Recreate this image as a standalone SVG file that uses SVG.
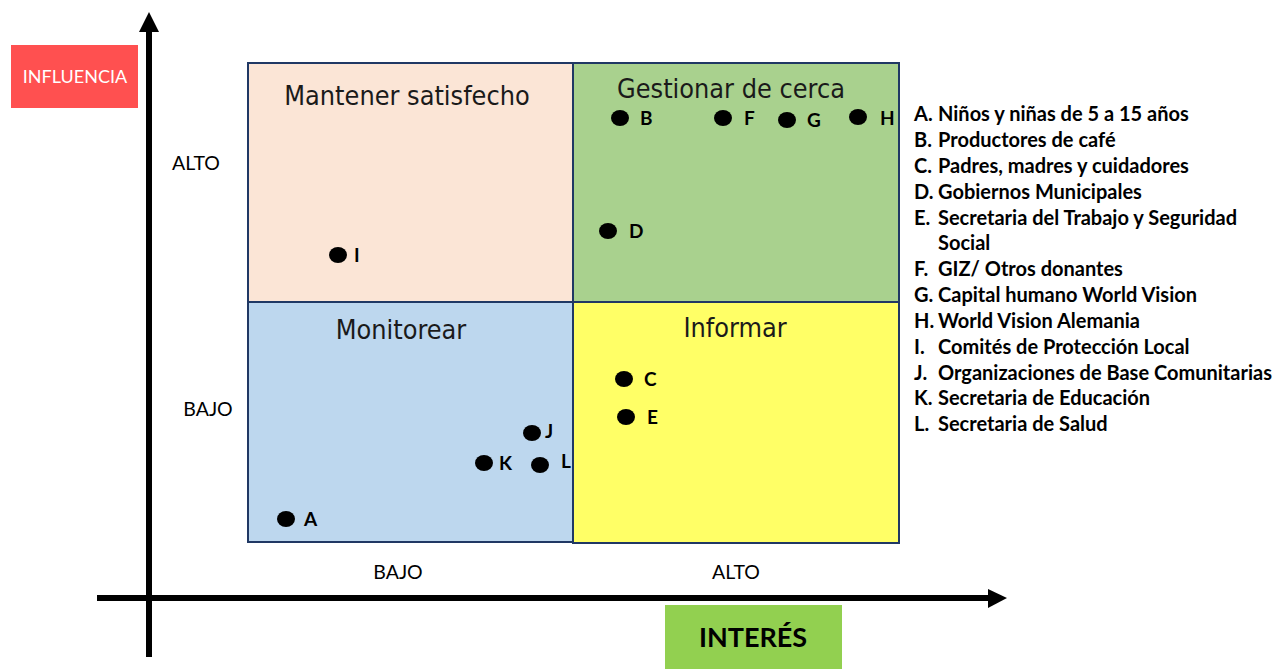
<svg xmlns="http://www.w3.org/2000/svg" width="1275" height="669" viewBox="0 0 1275 669">
<style>
.q{stroke:#203864;stroke-width:2}
.title{font-family:"DejaVu Sans Condensed","DejaVu Sans",sans-serif;font-size:26.8px;fill:#1a1a1a;text-anchor:middle}
.lbl{font-family:Lato,"Open Sans",sans-serif;font-weight:bold;font-size:19px;fill:#000}
.leg{font-family:Lato,"Open Sans",sans-serif;font-weight:bold;font-size:20px;fill:#000}
.ax{font-family:Lato,"Open Sans",sans-serif;font-size:19.5px;fill:#000;text-anchor:middle}
.dot{fill:#000}
</style>
<rect width="1275" height="669" fill="#fff"/>
<g id="quadrants">
<rect id="q-satisfecho" class="q" x="248" y="63" width="325" height="239" fill="#FBE5D6"/>
<rect id="q-cerca" class="q" x="573" y="63" width="326" height="239" fill="#A9D18E"/>
<rect id="q-monitorear" class="q" x="248" y="302" width="325" height="240" fill="#BDD7EE"/>
<rect id="q-informar" class="q" x="573" y="302" width="326" height="241" fill="#FFFF66"/>
<text class="title" x="407" y="105">Mantener satisfecho</text>
<text class="title" x="731" y="98">Gestionar de cerca</text>
<text class="title" x="401" y="339">Monitorear</text>
<text class="title" x="735" y="337">Informar</text>
</g>
<g id="connectors">
<line x1="149" y1="657" x2="149" y2="30" stroke="#000" stroke-width="6"/>
<polygon points="149,12 139,32 159,32" fill="#000"/>
<line x1="97" y1="598" x2="990" y2="598" stroke="#000" stroke-width="6"/>
<polygon points="1007,598 988,589 988,608" fill="#000"/>
</g>
<g id="influencia">
<rect x="11" y="45" width="127" height="63" fill="#FF5050"/>
<text x="75" y="83" font-family="Lato,'Open Sans',sans-serif" font-size="18" fill="#fff" text-anchor="middle">INFLUENCIA</text>
</g>
<g id="interes">
<rect x="665" y="605" width="177" height="64" fill="#92D050"/>
<text x="753" y="647" font-family="Lato,'Open Sans',sans-serif" font-weight="bold" font-size="27" fill="#000" text-anchor="middle">INTERÉS</text>
</g>
<g id="axis-labels">
<text class="ax" x="196" y="170">ALTO</text>
<text class="ax" x="208" y="416">BAJO</text>
<text class="ax" x="398" y="579">BAJO</text>
<text class="ax" x="736" y="579">ALTO</text>
</g>
<g id="points">
<g id="p-B"><ellipse class="dot" cx="620" cy="118" rx="9" ry="8"/><text class="lbl" x="640" y="125">B</text></g>
<g id="p-F"><ellipse class="dot" cx="723" cy="118" rx="9" ry="8"/><text class="lbl" x="744" y="125">F</text></g>
<g id="p-G"><ellipse class="dot" cx="787" cy="120" rx="9" ry="8"/><text class="lbl" x="807" y="127">G</text></g>
<g id="p-H"><ellipse class="dot" cx="858" cy="117" rx="9" ry="8"/><text class="lbl" x="880" y="125">H</text></g>
<g id="p-D"><ellipse class="dot" cx="608" cy="231" rx="9" ry="8"/><text class="lbl" x="629" y="238">D</text></g>
<g id="p-I"><ellipse class="dot" cx="338" cy="255" rx="9" ry="8"/><text class="lbl" x="354" y="262">I</text></g>
<g id="p-C"><ellipse class="dot" cx="624" cy="379" rx="9" ry="8"/><text class="lbl" x="644" y="386">C</text></g>
<g id="p-E"><ellipse class="dot" cx="626" cy="417" rx="9" ry="8"/><text class="lbl" x="647" y="424">E</text></g>
<g id="p-J"><ellipse class="dot" cx="532" cy="433" rx="9" ry="8"/><text class="lbl" x="545" y="438">J</text></g>
<g id="p-K"><ellipse class="dot" cx="484" cy="463" rx="9" ry="8"/><text class="lbl" x="499" y="470">K</text></g>
<g id="p-L"><ellipse class="dot" cx="540" cy="465" rx="9" ry="8"/><text class="lbl" x="561" y="468">L</text></g>
<g id="p-A"><ellipse class="dot" cx="286" cy="519" rx="9" ry="8"/><text class="lbl" x="304" y="526">A</text></g>
</g>
<g id="legend">
<text class="leg" x="914" y="121">A.</text><text class="leg" x="938" y="121">Niños y niñas de 5 a 15 años</text>
<text class="leg" x="914" y="147">B.</text><text class="leg" x="938" y="147">Productores de café</text>
<text class="leg" x="914" y="173">C.</text><text class="leg" x="938" y="173">Padres, madres y cuidadores</text>
<text class="leg" x="914" y="199">D.</text><text class="leg" x="938" y="199">Gobiernos Municipales</text>
<text class="leg" x="914" y="225">E.</text><text class="leg" x="938" y="225">Secretaria del Trabajo y Seguridad</text>
<text class="leg" x="938" y="250">Social</text>
<text class="leg" x="914" y="276">F.</text><text class="leg" x="938" y="276">GIZ/ Otros donantes</text>
<text class="leg" x="914" y="302">G.</text><text class="leg" x="938" y="302">Capital humano World Vision</text>
<text class="leg" x="914" y="328">H.</text><text class="leg" x="938" y="328">World Vision Alemania</text>
<text class="leg" x="914" y="354">I.</text><text class="leg" x="938" y="354">Comités de Protección Local</text>
<text class="leg" x="914" y="380">J.</text><text class="leg" x="938" y="380">Organizaciones de Base Comunitarias</text>
<text class="leg" x="914" y="405">K.</text><text class="leg" x="938" y="405">Secretaria de Educación</text>
<text class="leg" x="914" y="431">L.</text><text class="leg" x="938" y="431">Secretaria de Salud</text>
</g>
</svg>
